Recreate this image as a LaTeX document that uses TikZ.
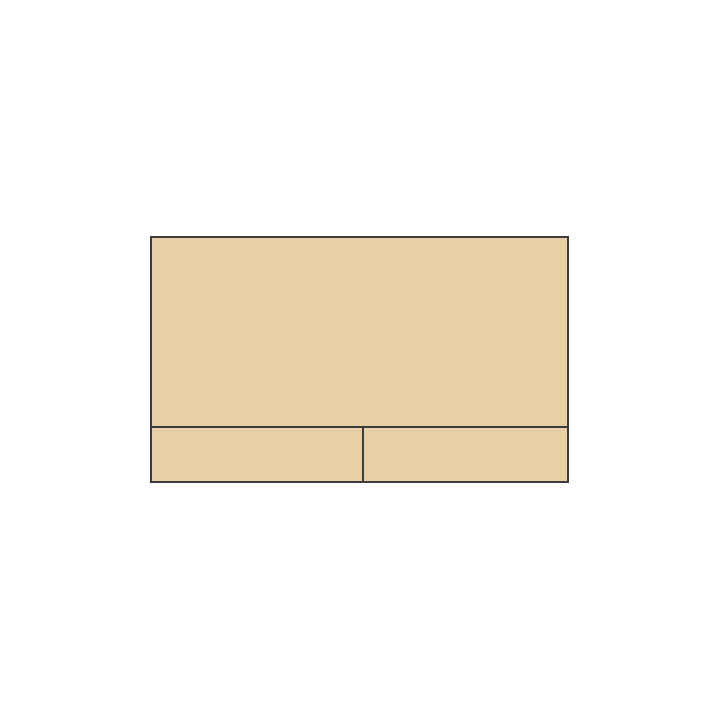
\documentclass[tikz,border=0pt]{standalone}
\definecolor{padfill}{HTML}{E8CFA5}
\definecolor{padline}{HTML}{3C3C3C}
\begin{document}
\begin{tikzpicture}[x=1pt,y=-1pt,
  part/.style={rectangle,draw=padline,fill=padfill,line width=2pt,inner sep=0pt,outer sep=0pt,anchor=north west}]
\useasboundingbox (0,0) rectangle (720,720);
\node [part,minimum width=417pt,minimum height=190pt] (pad) at (151,237) {};
\node [part,minimum width=212pt,minimum height=55pt] (lbtn) at (pad.south west) {};
\node [part,minimum width=205pt,minimum height=55pt] (rbtn) at (lbtn.north east) {};
\end{tikzpicture}
\end{document}
